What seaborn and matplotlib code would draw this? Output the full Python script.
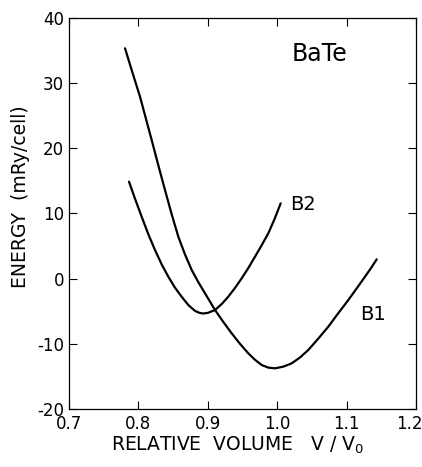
import numpy as np
import pandas as pd
import matplotlib
matplotlib.use("Agg")
import matplotlib.pyplot as plt
import matplotlib.transforms as mtransforms
import seaborn as sns

# Total energy vs. relative volume for BaTe in the B1 (NaCl) and B2 (CsCl) structures
b1_volume = [0.7807, 0.7915, 0.8023, 0.8107, 0.8191, 0.8287, 0.8383, 0.8479,
             0.8575, 0.8672, 0.8768, 0.8864, 0.8960, 0.9104, 0.9224, 0.9344,
             0.9464, 0.9584, 0.9680, 0.9776, 0.9872, 0.9968, 1.0089, 1.0209,
             1.0328, 1.0448, 1.0592, 1.0736, 1.0880, 1.1025, 1.1145, 1.1265,
             1.1350, 1.1434]
b1_energy = [35.35, 31.60, 27.93, 24.60, 21.28, 17.40, 13.61, 9.90,
             6.44, 3.70, 1.33, -0.55, -2.25, -4.81, -6.65, -8.39,
             -10.00, -11.46, -12.45, -13.25, -13.65, -13.76, -13.50, -12.99,
             -12.10, -10.94, -9.20, -7.37, -5.30, -3.27, -1.50, 0.30,
             1.60, 2.97]

b2_volume = [0.7865, 0.7950, 0.8047, 0.8140, 0.8239, 0.8335, 0.8431, 0.8525,
             0.8623, 0.8720, 0.8816, 0.8880, 0.8935, 0.9000, 0.9104, 0.9200,
             0.9295, 0.9390, 0.9488, 0.9585, 0.9680, 0.9775, 0.9872, 0.9960,
             1.0050]
b2_energy = [14.88, 12.30, 9.51, 6.90, 4.40, 2.20, 0.30, -1.35,
             -2.77, -4.05, -4.95, -5.25, -5.35, -5.25, -4.81, -3.90,
             -2.77, -1.45, 0.05, 1.65, 3.37, 5.10, 6.96, 9.10,
             11.56]

x_ticks = [0.7, 0.8, 0.9, 1.0, 1.1, 1.2]
x_tick_labels = ["0.7", "0.8", "0.9", "1.0", "1.1", "1.2"]
y_ticks = [-20, -10, 0, 10, 20, 30, 40]
y_tick_labels = ["-20", "-10", "0", "10", "20", "30", "40"]

df = pd.concat([
    pd.DataFrame({"volume": b1_volume, "energy": b1_energy, "phase": "B1"}),
    pd.DataFrame({"volume": b2_volume, "energy": b2_energy, "phase": "B2"}),
], ignore_index=True)

sns.set_theme(style="ticks")
plt.rcParams["font.family"] = ["DejaVu Sans"]
plt.rcParams["axes.unicode_minus"] = False
plt.rcParams["mathtext.default"] = "regular"

fig = plt.figure(figsize=(4.22, 4.67), dpi=100)
ax = fig.add_axes([0.1635, 0.1242, 0.8223, 0.8373])

sns.lineplot(data=df, x="volume", y="energy", units="phase", estimator=None,
             sort=False, color="black", linewidth=1.6, ax=ax, legend=False)

ax.set_xlim(0.7, 1.2)
ax.set_ylim(-20, 40)
ax.set_xticks(x_ticks)
ax.set_xticklabels(x_tick_labels)
ax.set_yticks(y_ticks)
ax.set_yticklabels(y_tick_labels)

for s in ax.spines.values():
    s.set_linewidth(0.9)
    s.set_color("black")

ax.tick_params(direction="in", top=True, right=True, length=6, width=0.8,
               labelsize=12, colors="black")
ax.tick_params(axis="x", pad=4.5)
ax.tick_params(axis="y", pad=3.5)

# keep the last x tick label inside the figure edge
last = ax.get_xticklabels()[-1]
last.set_transform(last.get_transform() +
                   mtransforms.ScaledTranslation(-7 / 100, 0, fig.dpi_scale_trans))

ax.set_xlabel("RELATIVE  VOLUME   V / V$_0$", fontsize=13.5, color="black",
              ha="center", va="center")
ax.xaxis.set_label_coords(0.486, -0.092)
ax.set_ylabel("ENERGY  (mRy/cell)", fontsize=13.5, color="black",
              ha="center", va="center")
ax.yaxis.set_label_coords(-0.141, 0.542)

ax.text(1.0213, 34.4, "BaTe", fontsize=17, ha="left", va="center", color="black")
ax.text(1.0184, 11.4, "B2", fontsize=14, ha="left", va="center", color="black")
ax.text(1.119, -5.5, "B1", fontsize=14, ha="left", va="center", color="black")

fig.savefig("out.png", dpi=100)
